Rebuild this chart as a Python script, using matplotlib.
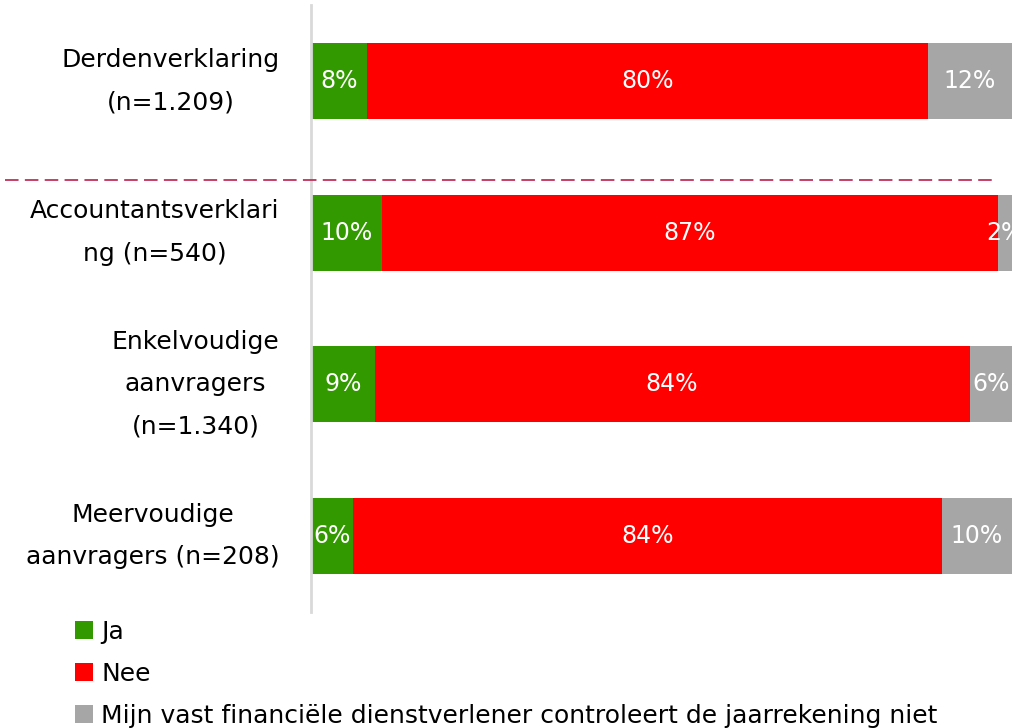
import numpy as np
import matplotlib
matplotlib.use('Agg')
import matplotlib.pyplot as plt
from matplotlib.lines import Line2D

categories = ['Derdenverklaring\n(n=1.209)', 'Accountantsverklari\nng (n=540)',
              'Enkelvoudige\naanvragers\n(n=1.340)', 'Meervoudige\naanvragers (n=208)']
ja = [8, 10, 9, 6]
nee = [80, 87, 84, 84]
niet = [12, 2, 6, 10]
series_names = ['Ja', 'Nee', 'Mijn vast financiële dienstverlener controleert de jaarrekening niet']
colors = ['#339900', '#FF0000', '#A6A6A6']

plt.rcParams['font.family'] = ['DejaVu Sans']
fig = plt.figure(figsize=(10.25, 7.28), dpi=100)
ax = fig.add_axes([311/1025, 1-612/728, 701/1025, 607/728])

vals = np.array([ja, nee, niet], dtype=float)
totals = vals.sum(axis=0)
shares = vals / totals * 100  # bars fill the full width
y = np.arange(len(categories))
left = np.zeros(len(categories))
handles = []
for i in range(3):
    b = ax.barh(y, shares[i], left=left, height=0.5, color=colors[i], label=series_names[i])
    handles.append(b)
    for j in range(len(categories)):
        ax.text(left[j] + shares[i][j]/2, y[j], '%d%%' % vals[i][j], ha='center', va='center',
                color='white', fontsize=17, clip_on=True)
    left += shares[i]

ax.set_xlim(0, 100)
ax.set_ylim(len(categories)-0.5, -0.5)
ax.set_xticks([])
ax.set_yticks([])
for s in ['top', 'right', 'bottom']:
    ax.spines[s].set_visible(False)
ax.spines['left'].set_color('#D9D9D9')
ax.spines['left'].set_linewidth(2)

for j, c in enumerate(categories):
    ax.text(-0.045, y[j], c, transform=ax.get_yaxis_transform(), ha='right', va='center',
            multialignment='center', fontsize=18, linespacing=1.97)

# dashed separator below first row
fig.add_artist(Line2D([5/1025, 997/1025], [1-180/728, 1-180/728], color='#C0305A',
                      lw=1.3, linestyle=(0, (7.5, 3.5))))

fig.legend(handles=handles, loc='upper left', bbox_to_anchor=(52/1025, 1-597/728),
           frameon=False, fontsize=18, handlelength=0.72, handleheight=0.72,
           handletextpad=0.35, labelspacing=0.73)

fig.savefig('out.png', dpi=100)
